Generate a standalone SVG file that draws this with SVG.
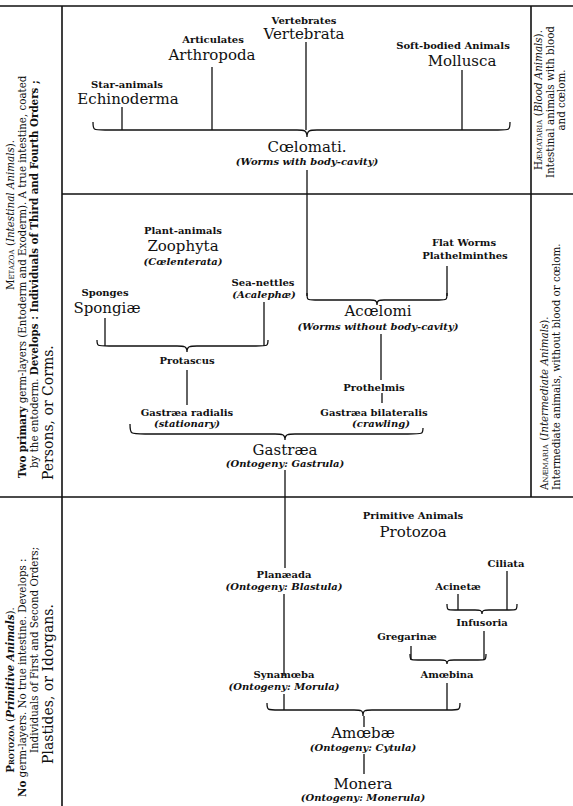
<svg xmlns="http://www.w3.org/2000/svg" width="573" height="806" viewBox="0 0 573 806">
<style>
text{font-family:"DejaVu Serif","Liberation Serif",serif;fill:#111}
.s{font-weight:bold;font-size:10px;text-anchor:middle}
.L{font-size:15px;text-anchor:middle}
.i{font-weight:bold;font-style:italic;font-size:10px;text-anchor:middle}
.c{font-size:10.3px}
.cb{font-size:14px}
.m{text-anchor:middle}
.sc{font-variant:small-caps}
.ln{stroke:#111;stroke-width:1.3;fill:none}
.fr{stroke:#111;stroke-width:1.6;fill:none}
</style>
<rect width="573" height="806" fill="#fff"/>
<g id="frame">
<path class="fr" d="M0 6H573M62 6V806M531 6V497M62 194H573M0 497H573"/>
</g>
<g id="side-metazoa">
<text class="c m" transform="translate(14,215) rotate(-90)"><tspan class="sc">Metazoa</tspan> (<tspan font-style="italic">Intestinal Animals</tspan>).</text>
<text class="c" transform="translate(26,478) rotate(-90)"><tspan font-weight="bold">Two primary</tspan> germ-layers (Entoderm and Exoderm). A true intestine, coated</text>
<text class="c" transform="translate(38,468) rotate(-90)">by the entoderm. <tspan font-weight="bold">Develops : Individuals of Third and Fourth Orders ;</tspan></text>
<text class="cb" transform="translate(53,480) rotate(-90)">Persons, or Corms.</text>
</g>
<g id="side-protozoa">
<text class="c m" transform="translate(14,690) rotate(-90)"><tspan class="sc" font-weight="bold">Protozoa</tspan> (<tspan font-style="italic" font-weight="bold">Primitive Animals</tspan>).</text>
<text class="c" transform="translate(26,797) rotate(-90)"><tspan font-weight="bold">No</tspan> germ-layers.  No true intestine.  Develops :</text>
<text class="c m" transform="translate(38,650) rotate(-90)">Individuals of First and Second Orders;</text>
<text class="cb m" transform="translate(53,684) rotate(-90)">Plastides, or Idorgans.</text>
</g>
<g id="side-haemataria">
<text class="c m" transform="translate(542,100) rotate(-90)"><tspan class="sc">Hæmataria</tspan> (<tspan font-style="italic">Blood Animals</tspan>).</text>
<text class="c m" transform="translate(554,102) rotate(-90)">Intestinal animals with blood</text>
<text class="c m" transform="translate(565,100) rotate(-90)">and cœlom.</text>
</g>
<g id="side-anaemaria">
<text class="c" transform="translate(548,490) rotate(-90)"><tspan class="sc">Anæmaria</tspan> (<tspan font-style="italic">Intermediate Animals</tspan>).</text>
<text class="c" transform="translate(560,490) rotate(-90)">Intermediate animals, without blood or cœlom.</text>
</g>
<g id="connectors">
<path class="ln" d="M122 107V130M212 67V130M306 42V130M462 70V130"/>
<path class="ln" stroke-width="1.6" d="M93 122C93 130 93 130 105 130L297 130C304 130 307 130 307 137C307 130 310 130 317 130L498 130C510 130 510 130 510 122"/>
<path class="ln" d="M307 170V296M447 266V296"/>
<path class="ln" stroke-width="1.5" d="M307 293C307 300 307 300 315 300L370 300C375 300 377 300 377 305C377 300 379 300 384 300L439 300C447 300 447 300 447 293"/>
<path class="ln" d="M105 318V346M264 302V346"/>
<path class="ln" stroke-width="1.6" d="M97 340C97 346 97 346 109 346L177 346C184 346 187 346 187 352C187 346 190 346 197 346L256 346C268 346 268 346 268 340"/>
<path class="ln" d="M187 370V405M381 334V380M382 393V403"/>
<path class="ln" stroke-width="1.6" d="M130 424C130 434 130 434 145 434L275 434C282 434 285 434 285 440C285 434 288 434 295 434L408 434C423 434 423 434 423 428"/>
<path class="ln" d="M285 470V568M284 594V676M284 694V710"/>
<path class="ln" d="M507 571V610M458 594V610M484 631V660M411 646V660M447 683V710M364 716V727M364 754V774"/>
<path class="ln" stroke-width="1.5" d="M447 604C447 610 447 610 455 610L475 610C480 610 482 610 482 614C482 610 484 610 489 610L509 610C517 610 517 610 517 604"/>
<path class="ln" stroke-width="1.5" d="M410 654C410 660 410 660 418 660L440 660C445 660 447 660 447 664C447 660 449 660 454 660L478 660C486 660 486 660 486 654"/>
<path class="ln" stroke-width="1.6" d="M267 703C267 710 267 710 279 710L354 710C361 710 363 710 363 716C363 710 365 710 372 710L448 710C460 710 460 710 460 703"/>
</g>
<g id="vertebrata"><text class="s" x="304" y="24">Vertebrates</text><text class="L" x="304" y="39">Vertebrata</text></g>
<g id="arthropoda"><text class="s" x="213" y="43">Articulates</text><text class="L" x="212" y="60">Arthropoda</text></g>
<g id="mollusca"><text class="s" x="453" y="49">Soft-bodied Animals</text><text class="L" x="462" y="66">Mollusca</text></g>
<g id="echinoderma"><text class="s" x="127" y="88">Star-animals</text><text class="L" x="128" y="104">Echinoderma</text></g>
<g id="coelomati"><text class="L" x="307" y="152">Cœlomati.</text><text class="i" x="307" y="165">(Worms with body-cavity)</text></g>
<g id="zoophyta"><text class="s" x="183" y="234">Plant-animals</text><text class="L" x="183" y="251">Zoophyta</text><text class="i" x="183" y="265">(Cœlenterata)</text></g>
<g id="plathelminthes"><text class="s" x="464" y="246">Flat Worms</text><text class="s" x="465" y="259">Plathelminthes</text></g>
<g id="spongiae"><text class="s" x="105" y="296">Sponges</text><text class="L" x="107" y="313">Spongiæ</text></g>
<g id="acalephae"><text class="s" x="263" y="286">Sea-nettles</text><text class="i" x="264" y="298">(Acalephæ)</text></g>
<g id="acoelomi"><text class="L" x="378" y="316">Acœlomi</text><text class="i" x="378" y="330">(Worms without body-cavity)</text></g>
<g id="protascus"><text class="s" x="187" y="364">Protascus</text></g>
<g id="prothelmis"><text class="s" x="374" y="391">Prothelmis</text></g>
<g id="gastraea-radialis"><text class="s" x="187" y="416">Gastræa radialis</text><text class="i" x="187" y="427">(stationary)</text></g>
<g id="gastraea-bilateralis"><text class="s" x="374" y="416">Gastræa bilateralis</text><text class="i" x="381" y="427">(crawling)</text></g>
<g id="gastraea"><text class="L" x="285" y="455">Gastræa</text><text class="i" x="285" y="467">(Ontogeny: Gastrula)</text></g>
<g id="protozoa"><text class="s" x="413" y="519">Primitive Animals</text><text class="L" x="413" y="537">Protozoa</text></g>
<g id="planaeada"><text class="s" x="284" y="578">Planæada</text><text class="i" x="284" y="590">(Ontogeny: Blastula)</text></g>
<g id="ciliata"><text class="s" x="506" y="567">Ciliata</text></g>
<g id="acinetae"><text class="s" x="458" y="590">Acinetæ</text></g>
<g id="infusoria"><text class="s" x="482" y="626">Infusoria</text></g>
<g id="gregarinae"><text class="s" x="407" y="640">Gregarinæ</text></g>
<g id="amoebina"><text class="s" x="447" y="678">Amœbina</text></g>
<g id="synamoeba"><text class="s" x="284" y="678">Synamœba</text><text class="i" x="284" y="690">(Ontogeny: Morula)</text></g>
<g id="amoebae"><text class="L" x="363" y="738">Amœbæ</text><text class="i" x="363" y="751">(Ontogeny: Cytula)</text></g>
<g id="monera"><text class="L" x="363" y="789">Monera</text><text class="i" x="363" y="801">(Ontogeny: Monerula)</text></g>
</svg>
